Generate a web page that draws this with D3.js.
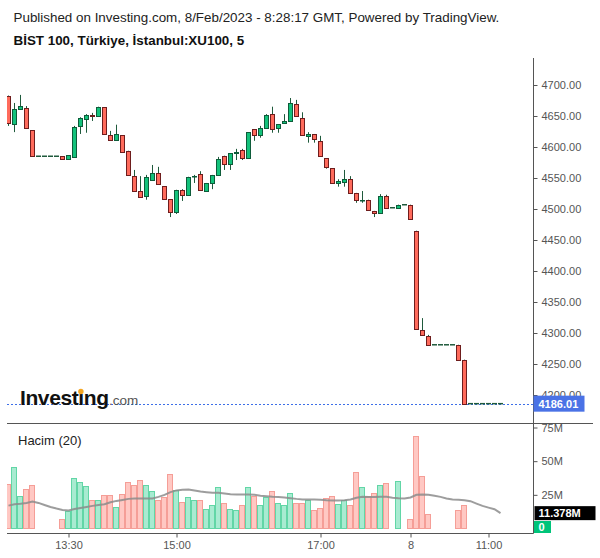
<!DOCTYPE html>
<html><head><meta charset="utf-8">
<script src="https://cdn.jsdelivr.net/npm/d3@7"></script>
<style>
body{margin:0;background:#fff;}
svg{display:block;font-family:"Liberation Sans",Arial,sans-serif;}
</style>
</head><body>
<svg id="c" width="600" height="558"></svg>
<script>
// ---- data (5-minute bars) ----
const openP  = [4682,4637,4661,4663,4627,4585,4585,4585,4585,4585,4581,4584,4634,4645,4652,4650,4664,4619,4611,4619,
4594,4553,4529,4521,4547,4558,4537,4516,4495,4531,4523,4553,4557,4529,4542,4555,4586,4573,4590,4595,
4582,4629,4619,4631,4653,4631,4639,4642,4669,4647,4618,4621,4610,4582,4566,4542,4544,4548,4526,4514,
4515,4497,4494,4521,4502,4502,4507,4507,4465,4305,4295,4281,4281,4281,4281,4281,4257,4186.01,4186.01,4186.01,
4186.01,4186.01,4186.01];
const highP  = [4683,4671,4684,4666,4627,4585,4585,4585,4585,4585,4587,4634,4648,4653,4655,4665,4664,4626,4636,4619,
4594,4563,4553,4555,4571,4568,4537,4516,4531,4532,4552,4555,4561,4542,4555,4584,4586,4590,4597,4597,
4624,4629,4634,4653,4665,4637,4653,4679,4676,4656,4624,4621,4618,4582,4566,4548,4563,4553,4526,4529,
4515,4497,4524,4523,4502,4507,4507,4507,4465,4324,4297,4281,4281,4281,4281,4281,4257,4186.01,4186.01,4186.01,
4186.01,4186.01,4186.01];
const lowP   = [4634,4624,4661,4629,4585,4585,4585,4585,4585,4581,4581,4584,4621,4623,4642,4650,4621,4611,4611,4592,
4555,4529,4519,4515,4547,4540,4516,4487,4492,4513,4523,4542,4531,4529,4532,4555,4563,4563,4579,4579,
4582,4610,4615,4631,4623,4623,4639,4642,4650,4619,4607,4607,4586,4565,4542,4536,4536,4526,4510,4510,
4498,4487,4494,4502,4502,4502,4507,4484,4307,4297,4281,4281,4281,4281,4281,4257,4186.01,4186.01,4186.01,4186.01,
4186.01,4186.01,4186.01];
const closeP = [4639,4661,4666,4631,4585,4585,4585,4585,4585,4581,4587,4632,4647,4652,4650,4664,4621,4611,4621,4592,
4555,4529,4519,4552,4558,4540,4516,4495,4531,4523,4552,4554,4531,4542,4555,4581,4573,4590,4592,4582,
4624,4619,4631,4652,4629,4637,4642,4671,4650,4619,4621,4613,4586,4568,4542,4545,4548,4526,4515,4515,
4498,4494,4521,4502,4502,4507,4507,4484,4307,4297,4281,4281,4281,4281,4281,4257,4186.01,4186.01,4186.01,4186.01,
4186.01,4186.01,4186.01];
// volume in millions
const volumeM = [33.4,45.8,24.3,29.5,32.4,0,0,0,0,6.7,12.9,37.6,34.7,31.7,21.3,20.8,25.0,25.0,16.1,25.8,
34.9,32.4,36.2,32.4,28.2,21.5,23.2,40.1,28.4,19.8,23.5,20.8,21.5,14.6,17.6,31.0,18.6,14.6,14.1,17.6,
31.0,24.0,17.6,23.5,28.2,19.3,17.8,26.0,19.3,19.3,20.8,13.4,15.3,22.3,24.3,18.3,20.8,17.8,42.1,31.0,
24.5,26.0,32.4,33.9,0.4,35.4,0.4,7.4,69.0,39.3,10.9,0,0,0,0,14.1,17.1,0,0,0,
0,0,0];
// "Hacim (20)" moving average, millions
const volumeMA = [17.0,18.0,18.3,19.0,20.0,19.0,17.5,16.0,14.8,13.8,13.4,14.5,15.3,16.0,16.8,17.5,18.0,19.5,20.5,21.2,
22.0,22.3,22.3,22.3,22.3,23.5,25.0,27.0,28.3,28.8,29.0,28.3,27.5,27.0,26.5,26.5,26.0,25.5,25.3,25.3,
25.3,25.0,24.3,24.0,23.5,23.3,23.0,22.5,22.0,21.6,21.5,21.5,21.3,21.0,20.8,20.8,21.0,21.5,22.8,23.5,
23.3,23.3,23.5,23.5,22.8,22.5,22.3,23.0,25.0,25.3,25.0,24.3,23.5,22.3,21.5,21.3,21.0,20.3,18.5,16.8,
15.5,14.3,11.4];
const priceTicks = [4200,4250,4300,4350,4400,4450,4500,4550,4600,4650,4700];
const volumeTicks = [25,50,75];
const timeTickIndex = [10,28,52,67,80];
const timeTickLabels = ["13:30","15:00","17:00","8","11:00"];
const lastPrice = 4186.01;
const lastMALabel = "11.378M";
const lastVolumeLabel = "0";
const headerText = "Published on Investing.com, 8/Feb/2023 - 8:28:17 GMT, Powered by TradingView.";
const titleText = "BİST 100, Türkiye, İstanbul:XU100, 5";
const volumeTitle = "Hacim (20)";

// ---- layout ----
const svg = d3.select("#c");
const n = openP.length;
const axisX = 533.5;
const x = d3.scaleLinear().domain([0, n - 1]).range([8.5, 8.5 + 6 * (n - 1)]);
const py = d3.scaleLinear().domain([4200, 4700]).range([395, 85]);
const vy = d3.scaleLinear().domain([0, 75]).range([528.5, 427.5]);

const UP = "#13c27b", UPL = "#0e5c3a", DN = "#ff6b5c", DNL = "#6e1d1d", WICK = "#1f5a3c";
const VUP = "#a8ebd1", VUPL = "#62d6a6", VDN = "#ffc8c3", VDNL = "#f59e97";

const defs = svg.append("defs");
defs.append("clipPath").attr("id","cp").append("rect").attr("x",7).attr("y",55).attr("width",axisX-7).attr("height",423-55);
defs.append("clipPath").attr("id","cv").append("rect").attr("x",7).attr("y",424).attr("width",axisX-7).attr("height",533-424);
defs.append("clipPath").attr("id","cva").append("rect").attr("x",axisX).attr("y",424).attr("width",70).attr("height",110);
defs.append("clipPath").attr("id","cpa").append("rect").attr("x",axisX).attr("y",55).attr("width",70).attr("height",341);

// header
svg.append("text").attr("x",13.5).attr("y",21.5).attr("font-size","13.4px").attr("fill","#222").text(headerText);
svg.append("text").attr("x",13.5).attr("y",44.5).attr("font-size","13.4px").attr("font-weight","bold").attr("fill","#111").text(titleText);

// price panel
const gp = svg.append("g").attr("clip-path","url(#cp)");
// last price dotted line
gp.append("line").attr("x1",7).attr("x2",axisX).attr("y1",Math.round(py(lastPrice))+0.5).attr("y2",Math.round(py(lastPrice))+0.5)
  .attr("stroke","#3d6fe8").attr("stroke-width",1).attr("stroke-dasharray","2,2");

const idx = d3.range(n);
idx.forEach(i => {
  const cx = x(i), o = openP[i], c = closeP[i], h = highP[i], l = lowP[i];
  const flat = (o === c && h === l);
  if (flat) {
    gp.append("line").attr("x1",cx-2.5).attr("x2",cx+2.5).attr("y1",py(c)).attr("y2",py(c))
      .attr("stroke",WICK).attr("stroke-width",1.5);
    return;
  }
  const up = c >= o;
  gp.append("line").attr("x1",cx).attr("x2",cx).attr("y1",py(h)).attr("y2",py(l))
    .attr("stroke",WICK).attr("stroke-width",1);
  const top = Math.round(py(Math.max(o,c))) + 0.5;
  const bot = Math.round(py(Math.min(o,c))) + 0.5;
  gp.append("rect").attr("x",cx-2).attr("width",4).attr("y",top).attr("height",Math.max(bot-top,0.5))
    .attr("fill",up?UP:DN).attr("stroke",up?UPL:DNL).attr("stroke-width",1);
});

// logo
const logo = svg.append("g");
const lt = logo.append("text").attr("x",20).attr("y",405).attr("font-size","21px").attr("font-weight","bold")
  .attr("fill","#111").attr("letter-spacing","-0.4").text("Investing");
const lw = lt.node().getComputedTextLength();
logo.append("text").attr("x",20+lw+0.5).attr("y",405).attr("font-size","13.5px").attr("fill","#555").text(".com");
const tmp = logo.append("text").attr("font-size","21px").attr("font-weight","bold").attr("letter-spacing","-0.4").text("Invest");
const w1 = tmp.node().getComputedTextLength(); tmp.remove();
logo.append("circle").attr("cx",20+w1+2.6).attr("cy",391.5).attr("r",2.7).attr("fill","#f5a623");

// volume panel
svg.append("text").attr("x",18).attr("y",444.5).attr("font-size","13px").attr("fill","#222").text(volumeTitle);
const gv = svg.append("g").attr("clip-path","url(#cv)");
idx.forEach(i => {
  const cx = Math.floor(x(i));
  const up = closeP[i] >= openP[i];
  const top = Math.round(vy(volumeM[i])) + 0.5;
  const bot = vy(0);
  gv.append("rect").attr("x",cx-2.5).attr("width",5).attr("y",top).attr("height",Math.max(bot-top,0))
    .attr("fill",up?VUP:VDN).attr("stroke",up?VUPL:VDNL).attr("stroke-width",1);
});
gv.append("path").datum(volumeMA)
  .attr("d", d3.line().x((d,i)=>x(i)).y(d=>vy(d)))
  .attr("fill","none").attr("stroke","#8c8c8c").attr("stroke-width",2).attr("stroke-opacity",0.85);

// frame lines
svg.append("line").attr("x1",axisX).attr("x2",axisX).attr("y1",58).attr("y2",533.5).attr("stroke","#555");
svg.append("line").attr("x1",7).attr("x2",593).attr("y1",423.5).attr("y2",423.5).attr("stroke","#555");
svg.append("line").attr("x1",7).attr("x2",axisX).attr("y1",533.5).attr("y2",533.5).attr("stroke","#555");

// price axis (the lowest label sits partly behind the last-price tag, as in the original)
const pa = svg.append("g").attr("clip-path","url(#cpa)").append("g").attr("transform",`translate(${axisX},0)`)
  .call(d3.axisRight(py).tickValues(priceTicks).tickFormat(d=>d.toFixed(2)).tickSize(4).tickPadding(4));
pa.select(".domain").remove();
pa.selectAll("line").attr("stroke","#555");
pa.selectAll("text").attr("fill","#555").attr("font-size","11px").attr("font-family","Liberation Sans, Arial, sans-serif");

// volume axis
const va = svg.append("g").attr("clip-path","url(#cva)").append("g").attr("transform",`translate(${axisX},0)`)
  .call(d3.axisRight(vy).tickValues(volumeTicks).tickFormat(d=>d+"M").tickSize(4).tickPadding(4));
va.select(".domain").remove();
va.selectAll("line").attr("stroke","#555");
va.selectAll("text").attr("fill","#555").attr("font-size","11px").attr("font-family","Liberation Sans, Arial, sans-serif");

// time axis
const ta = svg.append("g").attr("transform","translate(0,533.5)")
  .call(d3.axisBottom(x).tickValues(timeTickIndex).tickFormat((d,i)=>timeTickLabels[i]).tickSize(4).tickPadding(4));
ta.select(".domain").remove();
ta.selectAll("line").attr("stroke","#555");
ta.selectAll("text").attr("fill","#555").attr("font-size","11px").attr("font-family","Liberation Sans, Arial, sans-serif");

// value labels
const ly = py(lastPrice);
svg.append("rect").attr("x",axisX).attr("y",ly-8).attr("width",51).attr("height",16).attr("fill","#4a72e6");
svg.append("text").attr("x",axisX+5).attr("y",ly).attr("dy","0.36em").attr("font-size","11px").attr("font-weight","bold")
  .attr("fill","#fff").text(lastPrice.toFixed(2));
const my = vy(volumeMA[n-1]);
svg.append("rect").attr("x",axisX+1).attr("y",my-7).attr("width",61).attr("height",14).attr("fill","#000");
svg.append("text").attr("x",axisX+5).attr("y",my).attr("dy","0.36em").attr("font-size","11px").attr("font-weight","bold")
  .attr("fill","#fff").text(lastMALabel);
const zy = vy(volumeM[n-1]) - 1.5;
svg.append("rect").attr("x",axisX+0.5).attr("y",zy-6).attr("width",17).attr("height",12).attr("fill","#00c47a");
svg.append("text").attr("x",axisX+5).attr("y",zy).attr("dy","0.36em").attr("font-size","11px").attr("font-weight","bold")
  .attr("fill","#fff").text(lastVolumeLabel);
</script>
</body></html>
